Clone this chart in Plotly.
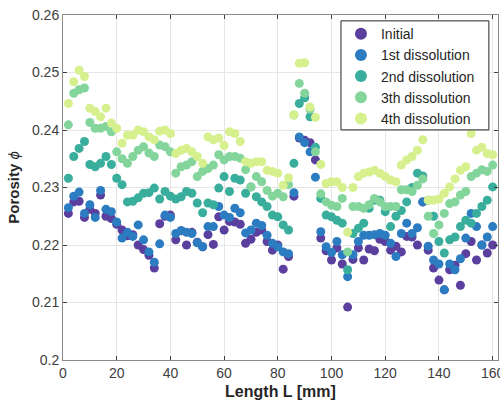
import plotly.graph_objects as go

x_mm = list(range(2, 161, 2))

initial = [0.2255, 0.2275, 0.2276, 0.2248, 0.2262, 0.2255, 0.2287, 0.2250, 0.2246, 0.2236,
           0.2226, 0.2216, 0.2218, 0.2200, 0.2192, 0.2182, 0.2160, 0.2237, 0.2250, 0.2252,
           0.2209, 0.2225, 0.2200, 0.2222, 0.2205, 0.2197, 0.2218, 0.2201, 0.2249, 0.2226,
           0.2241, 0.2240, 0.2236, 0.2203, 0.2210, 0.2222, 0.2226, 0.2206, 0.2191, 0.2200,
           0.2158, 0.2180, 0.2285, 0.2386, 0.2382, 0.2378, 0.2348, 0.2212, 0.2190, 0.2174,
           0.2195, 0.2167, 0.2092, 0.2175, 0.2195, 0.2174, 0.2193, 0.2190, 0.2210, 0.2206,
           0.2191, 0.2198, 0.2188, 0.2215, 0.2214, 0.2200, 0.2275, 0.2191, 0.2160, 0.2139,
           0.2122, 0.2157, 0.2165, 0.2130, 0.2185, 0.2206, 0.2174, 0.2200, 0.2186, 0.2200]

first = [0.2265, 0.2285, 0.2292, 0.2255, 0.2270, 0.2248, 0.2295, 0.2262, 0.2258, 0.2240,
         0.2212, 0.2222, 0.2215, 0.2235, 0.2209, 0.2188, 0.2170, 0.2202, 0.2252, 0.2248,
         0.2220, 0.2225, 0.2222, 0.2220, 0.2204, 0.2197, 0.2232, 0.2232, 0.2267, 0.2252,
         0.2248, 0.2264, 0.2256, 0.2221, 0.2226, 0.2238, 0.2234, 0.2217, 0.2203, 0.2197,
         0.2188, 0.2185, 0.2291, 0.2388, 0.2378, 0.2362, 0.2318, 0.2223, 0.2197, 0.2187,
         0.2206, 0.2183, 0.2145, 0.2183, 0.2206, 0.2217, 0.2217, 0.2218, 0.2220, 0.2217,
         0.2203, 0.2180, 0.2220, 0.2238, 0.2220, 0.2230, 0.2275, 0.2198, 0.2174, 0.2167,
         0.2122, 0.2167, 0.2157, 0.2176, 0.2212, 0.2255, 0.2232, 0.2200, 0.2214, 0.2232]

second = [0.2316, 0.2354, 0.2368, 0.2380, 0.2340, 0.2336, 0.2342, 0.2354, 0.2340, 0.2316,
          0.2305, 0.2275, 0.2276, 0.2282, 0.2290, 0.2291, 0.2299, 0.2280, 0.2293, 0.2285,
          0.2280, 0.2284, 0.2293, 0.2290, 0.2273, 0.2256, 0.2273, 0.2270, 0.2299, 0.2319,
          0.2293, 0.2316, 0.2313, 0.2290, 0.2301, 0.2284, 0.2275, 0.2267, 0.2252, 0.2249,
          0.2235, 0.2226, 0.2342, 0.2446, 0.2456, 0.2423, 0.2370, 0.2281, 0.2252, 0.2249,
          0.2243, 0.2238, 0.2157, 0.2220, 0.2229, 0.2238, 0.2264, 0.2278, 0.2278, 0.2258,
          0.2232, 0.2250, 0.2260, 0.2275, 0.2300, 0.2325, 0.2320, 0.2278, 0.2250, 0.2206,
          0.2186, 0.2209, 0.2214, 0.2232, 0.2243, 0.2238, 0.2255, 0.2267, 0.2278, 0.2301]

third = [0.2409, 0.2464, 0.2470, 0.2473, 0.2413, 0.2403, 0.2403, 0.2406, 0.2397, 0.2362,
         0.2350, 0.2342, 0.2354, 0.2365, 0.2371, 0.2360, 0.2354, 0.2374, 0.2371, 0.2362,
         0.2325, 0.2336, 0.2339, 0.2345, 0.2319, 0.2328, 0.2333, 0.2339, 0.2357, 0.2348,
         0.2354, 0.2354, 0.2351, 0.2331, 0.2301, 0.2319, 0.2310, 0.2295, 0.2285, 0.2290,
         0.2284, 0.2305, 0.2426, 0.2481, 0.2464, 0.2436, 0.2362, 0.2289, 0.2275, 0.2269,
         0.2267, 0.2281, 0.2188, 0.2267, 0.2267, 0.2264, 0.2270, 0.2281, 0.2275, 0.2267,
         0.2267, 0.2267, 0.2296, 0.2296, 0.2293, 0.2304, 0.2315, 0.2250, 0.2220, 0.2235,
         0.2255, 0.2272, 0.2275, 0.2287, 0.2293, 0.2319, 0.2325, 0.2331, 0.2328, 0.2339]

fourth = [0.2446, 0.2484, 0.2504, 0.2493, 0.2438, 0.2432, 0.2423, 0.2438, 0.2412, 0.2403,
          0.2377, 0.2391, 0.2391, 0.2400, 0.2397, 0.2388, 0.2383, 0.2398, 0.2400, 0.2394,
          0.2359, 0.2365, 0.2368, 0.2362, 0.2354, 0.2342, 0.2388, 0.2383, 0.2386, 0.2373,
          0.2397, 0.2394, 0.2380, 0.2345, 0.2342, 0.2345, 0.2345, 0.2330, 0.2328, 0.2325,
          0.2304, 0.2317, 0.2426, 0.2516, 0.2517, 0.2440, 0.2422, 0.2340, 0.2307, 0.2310,
          0.2310, 0.2300, 0.2222, 0.2300, 0.2319, 0.2325, 0.2327, 0.2330, 0.2325, 0.2319,
          0.2313, 0.2310, 0.2339, 0.2348, 0.2354, 0.2365, 0.2383, 0.2278, 0.2278, 0.2280,
          0.2290, 0.2301, 0.2315, 0.2330, 0.2336, 0.2394, 0.2365, 0.2370, 0.2359, 0.2357]

series_names = ["Initial", "1st dissolution", "2nd dissolution", "3th dissolution", "4th dissolution"]
series_values = [initial, first, second, third, fourth]
series_colors = ["#5a3f9e", "#2b7cc0", "#3aae9c", "#84d59c", "#d7f08e"]

x_ticks = [0, 20, 40, 60, 80, 100, 120, 140, 160]
y_ticks = [0.2, 0.21, 0.22, 0.23, 0.24, 0.25, 0.26]
y_tick_text = ["0.2", "0.21", "0.22", "0.23", "0.24", "0.25", "0.26"]

fig = go.Figure()
for name, vals, col in zip(series_names, series_values, series_colors):
    fig.add_trace(go.Scatter(
        x=x_mm, y=vals, mode="markers", name=name,
        marker=dict(color=col, size=9, line=dict(width=0)),
    ))

axis_common = dict(
    showline=True, linecolor="#8c8c8c", linewidth=1, mirror="ticks",
    ticks="inside", ticklen=4, tickcolor="#404040",
    showgrid=True, gridcolor="#e6e6e6", gridwidth=1,
    zeroline=False, automargin=False, ticklabeloverflow="allow",
    tickfont=dict(family="Liberation Sans, Arial, sans-serif", size=14, color="#404040"),
)

# legend frame (drawn as a box so its size matches the reference)
fig.add_shape(type="rect", xref="paper", yref="paper",
              x0=0.639, x1=0.979, y0=0.667, y1=0.983,
              fillcolor="white", line=dict(color="#262626", width=1), layer="above")

fig.update_layout(
    width=500, height=404,
    paper_bgcolor="white", plot_bgcolor="white",
    margin=dict(l=63, r=2, t=15, b=44),
    font=dict(family="Liberation Sans, Arial, sans-serif", color="#262626"),
    xaxis=dict(range=[0, 162], tickvals=x_ticks,
               title=dict(text="<b>Length L [mm]</b>", font=dict(size=16, color="#262626"), standoff=6),
               **axis_common),
    yaxis=dict(range=[0.2, 0.26], tickvals=y_ticks, ticktext=y_tick_text,
               title=dict(text="<b>Porosity</b> <i>ϕ</i>", font=dict(size=15, color="#262626"), standoff=8),
               **axis_common),
    legend=dict(
        x=0.639, y=0.991, xanchor="left", yanchor="top",
        bgcolor="rgba(0,0,0,0)", borderwidth=0,
        font=dict(family="Liberation Sans, Arial, sans-serif", size=14, color="#262626"),
        itemsizing="constant", tracegroupgap=0,
    ),
    showlegend=True,
)

fig.write_html("out.html", config={"displayModeBar": False},
               post_script="document.body.style.margin='0';document.body.style.padding='0';document.body.style.overflow='hidden';")
